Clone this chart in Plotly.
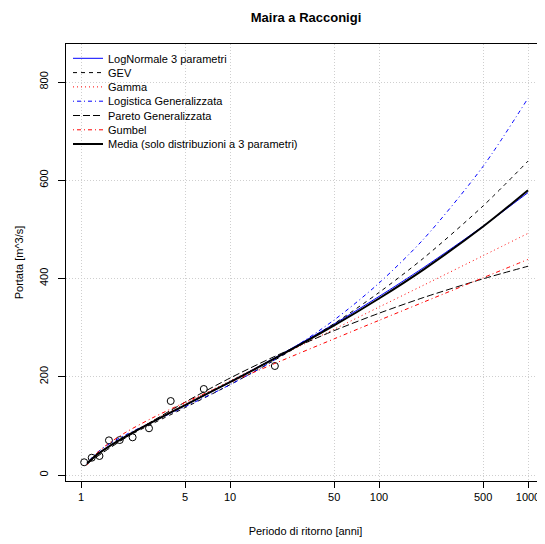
import plotly.graph_objects as go

# Return periods (anni) at which the fitted curves are read
T_curve = [1.1, 1.25, 1.5, 2, 3, 5, 10, 20, 50, 100, 200, 500, 1000]

lognormale3 = [24.0, 39.6, 56.4, 78.8, 107.4, 142.1, 189.5, 238.7, 307.6, 363.4, 422.6, 506.7, 574.9]
gev = [22.0, 38.5, 55.2, 76.8, 104.1, 137.3, 183.8, 234.0, 308.2, 371.5, 442.0, 547.9, 639.0]
gamma = [24.0, 38.6, 55.7, 79.2, 109.4, 145.2, 191.7, 237.3, 296.8, 341.8, 386.7, 446.5, 491.9]
logistica = [24.0, 42.9, 60.7, 82.1, 107.9, 139.1, 183.8, 234.6, 315.6, 390.7, 480.8, 628.5, 767.0]
pareto = [23.8, 35.3, 51.5, 76.2, 109.3, 148.4, 197.3, 241.6, 293.9, 329.3, 361.5, 399.4, 425.0]
gumbel = [20.2, 41.7, 62.2, 87.0, 115.9, 148.0, 188.4, 227.1, 277.2, 314.8, 352.2, 401.6, 438.9]
media = [23.6, 39.0, 55.9, 78.6, 107.6, 142.4, 189.2, 237.2, 304.4, 359.3, 418.7, 505.8, 579.6]

# Observed annual maxima (empirical return periods)
T_obs = [1.05, 1.18, 1.33, 1.54, 1.82, 2.22, 2.86, 4.0, 6.67, 20.0]
Q_obs = [25.9, 35.2, 38.7, 70.6, 71.2, 76.7, 95.1, 150.6, 175.1, 221.9]

x_ticks = [1, 5, 10, 50, 100, 500, 1000]
y_ticks = [0, 200, 400, 600, 800]

FONT = "Liberation Sans, Arial, Helvetica, sans-serif"

series = [
    ("LogNormale 3 parametri", lognormale3, "#0000FF", "solid", 1),
    ("GEV", gev, "#000000", "4px,4px", 1),
    ("Gamma", gamma, "#FF0000", "1px,3px", 1),
    ("Logistica Generalizzata", logistica, "#0000FF", "1px,3px,4px,3px", 1),
    ("Pareto Generalizzata", pareto, "#000000", "7px,3px", 1),
    ("Gumbel", gumbel, "#FF0000", "1px,3px,4px,3px", 1),
    ("Media (solo distribuzioni a 3 parametri)", media, "#000000", "solid", 2),
]

# the page body adds an 8 px offset, so the figure is laid out 8 px up-left
OFF = 8
W, H = 545 - OFF, 544 - OFF
ml, mr, mt, mb = 66 - OFF, 0, 44 - OFF, 544 - 481
plot_w = W - ml - mr
plot_h = H - mt - mb

fig = go.Figure()

fig.add_trace(go.Scatter(
    x=T_obs, y=Q_obs, mode="markers", showlegend=False,
    marker=dict(symbol="circle-open", size=7, color="black", line=dict(width=1, color="black")),
))

row_px = [58.3, 72.6, 86.9, 101.2, 115.5, 129.8, 144.1]
legends = {}
for i, (name, vals, col, dash, w) in enumerate(series):
    key = "legend" if i == 0 else f"legend{i+1}"
    fig.add_trace(go.Scatter(
        x=T_curve, y=vals, mode="lines", name=name, legend=key,
        line=dict(color=col, width=w, dash=dash, shape="spline", smoothing=0.8),
    ))
    legends[key] = dict(
        x=(68 - 66) / plot_w, xanchor="left",
        y=(481 - row_px[i]) / plot_h, yanchor="middle",
        bgcolor="rgba(0,0,0,0)", borderwidth=0,
        font=dict(family=FONT, size=11, color="black"),
        itemwidth=30,
    )

fig.update_layout(
    width=W, height=H,
    margin=dict(l=ml, r=mr, t=mt, b=mb, autoexpand=False),
    paper_bgcolor="white", plot_bgcolor="white",
    font=dict(family=FONT, size=11, color="black"),
    title=dict(text="<b>Maira a Racconigi</b>", x=(306 - OFF) / W, xanchor="center",
               y=1 - (17 - OFF) / H, yanchor="middle", font=dict(family=FONT, size=13, color="black")),
    xaxis=dict(
        type="log", range=[-0.1007, 3.1141], automargin=False,
        tickvals=x_ticks, ticktext=[str(v) for v in x_ticks],
        ticks="outside", ticklen=6, tickcolor="black", tickwidth=1,
        showline=True, linecolor="black", linewidth=1, mirror=True,
        showgrid=True, gridcolor="#CFCFCF", griddash="1px,2px", gridwidth=1,
        zeroline=False,
        tickfont=dict(family=FONT, size=11, color="black"),
        title=dict(text="Periodo di ritorno [anni]", standoff=25,
                   font=dict(family=FONT, size=11, color="black")),
    ),
    yaxis=dict(
        range=[-12.2, 877.4], automargin=False,
        tickvals=y_ticks, ticktext=[str(v) for v in y_ticks],
        tickangle=-90, ticklabelstandoff=6,
        ticks="outside", ticklen=7, tickcolor="black", tickwidth=1,
        showline=True, linecolor="black", linewidth=1, mirror=False,
        showgrid=True, gridcolor="#CFCFCF", griddash="1px,2px", gridwidth=1,
        zeroline=False,
        tickfont=dict(family=FONT, size=11, color="black"),
        title=dict(text="Portata [m^3/s]", standoff=11,
                   font=dict(family=FONT, size=11, color="black")),
    ),
    **legends,
)

fig.write_html("out.html")
